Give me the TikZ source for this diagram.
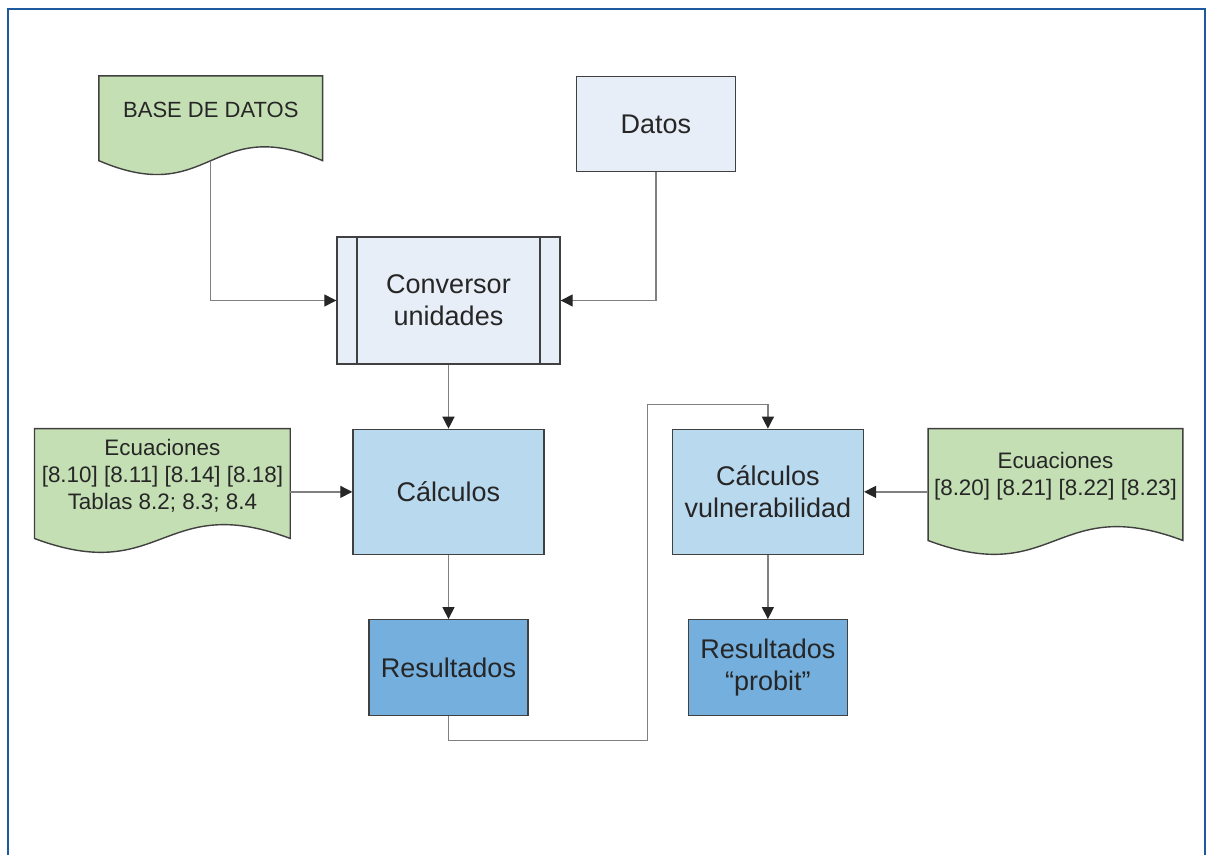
\documentclass[tikz,border=0pt]{standalone}
\usepackage{fontspec}
\setmainfont{Liberation Sans}
\usepackage{tikz}
\usetikzlibrary{arrows.meta, positioning, calc, backgrounds}
\definecolor{frameblue}{RGB}{30,90,160}
\definecolor{boxlight}{RGB}{231,238,247}
\definecolor{boxmid}{RGB}{185,217,238}
\definecolor{boxdark}{RGB}{116,175,222}
\definecolor{docgreen}{RGB}{196,223,180}
\definecolor{edgegray}{RGB}{64,64,64}
\definecolor{linegray}{RGB}{128,128,128}

\begin{document}
\begin{tikzpicture}[
    node distance=32pt and 32pt,
    box/.style={draw=edgegray, line width=0.7pt, align=center, inner sep=2pt, text=black!85, font=\fontsize{13.5}{16.2}\selectfont},
    b1/.style={box, fill=boxlight},
    b2/.style={box, fill=boxmid, minimum width=95.5pt, minimum height=62.5pt},
    b3/.style={box, fill=boxdark, minimum width=79.5pt, minimum height=48pt},
    subproc/.style={b1, path picture={
        \draw[edgegray, line width=0.7pt] ([xshift=10pt]path picture bounding box.north west) -- ([xshift=10pt]path picture bounding box.south west);
        \draw[edgegray, line width=0.7pt] ([xshift=-10pt]path picture bounding box.north east) -- ([xshift=-10pt]path picture bounding box.south east);}},
    dok/.style={align=center, inner sep=0pt, text=black!85, font=\fontsize{11.2}{13.6}\selectfont},
    docshape/.style={draw=edgegray, line width=0.7pt, fill=docgreen},
    arr/.style={-{Triangle[length=6pt, width=6pt, color=black!85]}, draw=linegray, line width=0.65pt},
  ]
  \useasboundingbox (-224.25pt,-277.25pt) rectangle (379.25pt,150.25pt);
  \node[subproc, minimum width=111.5pt, minimum height=63.5pt] (conv) {Conversor\\unidades};
  \node[b1, minimum width=79.5pt, minimum height=47.5pt, above right=32pt and 7.5pt of conv.north east] (datos) {Datos};
  \node[dok, minimum width=111.5pt, minimum height=34pt, left=126.5pt of datos.north west, anchor=north east, font=\fontsize{11}{13}\selectfont] (base) {BASE DE DATOS};
  \node[b2, below=of conv] (calc) {Cálculos};
  \node[b3, below=of calc] (res) {Resultados};
  \node[dok, minimum width=127.5pt, minimum height=46.5pt, left=31pt of calc.north west, anchor=north east] (ecu1) {Ecuaciones\\{}[8.10] [8.11] [8.14] [8.18]\\Tablas 8.2; 8.3; 8.4};
  \node[b2, right=63.5pt of calc] (calcv) {Cálculos\\vulnerabilidad};
  \node[b3, below=of calcv] (resp) {Resultados\\“probit”};
  \node[dok, minimum width=127pt, minimum height=47.5pt, right=32pt of calcv.north east, anchor=north west] (ecu2) {Ecuaciones\\{}[8.20] [8.21] [8.22] [8.23]};
  \begin{scope}[on background layer]
    \foreach \d in {base, ecu1, ecu2}
      \draw[docshape] (\d.north west) -- (\d.north east) -- ([yshift=-8pt]\d.south east)
        .. controls ([yshift=16pt]\d.south) and ([yshift=-32pt]\d.south) .. ([yshift=-8pt]\d.south west) -- cycle;
  \end{scope}
  \coordinate (base-w) at ([yshift=-8pt]base.south);
  \draw[arr] (base-w) |- (conv.west);
  \draw[arr] (datos.south) |- (conv.east);
  \draw[arr] (conv) -- (calc);
  \draw[arr] (ecu1.east |- calc.west) -- (calc.west);
  \draw[arr] (calc) -- (res);
  \draw[arr] (res.south) -- ++(0,-12pt) -| ([shift={(-12pt,12pt)}]calcv.north west) -| (calcv.north);
  \draw[arr] (ecu2.west |- calcv.east) -- (calcv.east);
  \draw[arr] (calcv) -- (resp);
  \draw[frameblue, line width=1pt] (-220.25pt,-277.25pt) -- (-220.25pt,145.75pt) -- (378.25pt,145.75pt) -- (378.25pt,-277.25pt);
\end{tikzpicture}
\end{document}
